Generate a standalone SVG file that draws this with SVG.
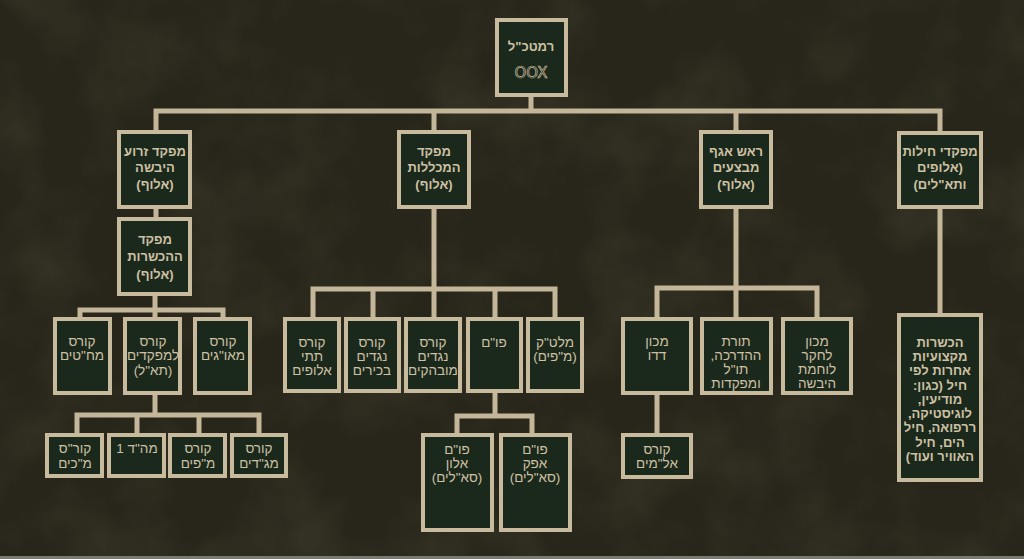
<svg xmlns="http://www.w3.org/2000/svg" width="1024" height="559" viewBox="0 0 1024 559">
<style>
.bx{fill:#1b291c;stroke:#c8ba9c;stroke-width:4}
.cn{stroke:#c4b698;stroke-width:5;fill:none;stroke-linecap:square}
.t{font-family:"Liberation Sans","DejaVu Sans",sans-serif;fill:#cdc0a3;text-anchor:middle;direction:rtl;font-size:13.5px}
.b{font-weight:bold;font-size:13px}
.sym{font-family:"DejaVu Sans","Liberation Sans",sans-serif;font-size:15px;fill:none;stroke:#c8ba9c;stroke-width:0.7;text-anchor:middle}
</style>
<defs>
<filter id="grain" x="0" y="0" width="100%" height="100%">
<feTurbulence type="fractalNoise" baseFrequency="0.012" numOctaves="4" seed="7"/>
<feColorMatrix type="matrix" values="0 0 0 0 0.2  0 0 0 0 0.2  0 0 0 0 0.13  0 0 0 1.1 -0.45"/>
</filter>
</defs>
<rect width="1024" height="559" fill="#28261a"/>
<rect width="1024" height="556" filter="url(#grain)" opacity="0.28"/>
<rect y="556" width="1024" height="3" fill="#7b7a72"/>

<g id="connectors" class="cn">
<path d="M531 97V111M156 111H940M156 111V130M434 111V130M736 111V130M940 111V130"/>
<path d="M156 209V217M155 296V310M80 310H223M80 310V317M155 310V317M223 310V317"/>
<path d="M155 395V415M77 415H259M77 415V433M137 415V433M199 415V433M259 415V433"/>
<path d="M434 209V289M313 289H555M313 289V317M373 289V317M434 289V317M495 289V317M555 289V317"/>
<path d="M495 393V416M457 416H532M457 416V433M532 416V433"/>
<path d="M736 209V288M657 288H817M657 288V317M736 288V317M817 288V317M657 395V433"/>
<path d="M940 209V313"/>
</g>

<g id="ramatkal"><rect class="bx" x="497" y="20" width="69" height="75"/>
<text class="t b" x="531" y="51">רמטכ"ל</text>
<text class="sym" x="531" y="78">OOX</text></g>

<g id="mazi"><rect class="bx" x="119" y="132" width="71" height="75"/>
<text class="t b"><tspan x="155" y="156">מפקד זרוע</tspan><tspan x="155" y="172">היבשה</tspan><tspan x="155" y="189">(אלוף)</tspan></text></g>

<g id="mamlalot"><rect class="bx" x="399" y="132" width="70" height="75"/>
<text class="t b"><tspan x="434" y="156">מפקד</tspan><tspan x="434" y="172">המכללות</tspan><tspan x="434" y="189">(אלוף)</tspan></text></g>

<g id="ragam"><rect class="bx" x="701" y="132" width="70" height="75"/>
<text class="t b"><tspan x="736" y="156">ראש אגף</tspan><tspan x="736" y="172">מבצעים</tspan><tspan x="736" y="189">(אלוף)</tspan></text></g>

<g id="chilot"><rect class="bx" x="899" y="133" width="82" height="74"/>
<text class="t b"><tspan x="940" y="156">מפקדי חילות</tspan><tspan x="940" y="172">(אלופים</tspan><tspan x="940" y="189">ותא"לים)</tspan></text></g>

<g id="hakasharot-cmd"><rect class="bx" x="119" y="219" width="71" height="75"/>
<text class="t b"><tspan x="155" y="244">מפקד</tspan><tspan x="155" y="261">ההכשרות</tspan><tspan x="155" y="279">(אלוף)</tspan></text></g>

<g id="machatim"><rect class="bx" x="55" y="319" width="55" height="74"/>
<text class="t"><tspan x="82" y="346">קורס</tspan><tspan x="82" y="360">מח"טים</tspan></text></g>
<g id="lamefakdim"><rect class="bx" x="125" y="319" width="55" height="74"/>
<text class="t"><tspan x="153" y="346">קורס</tspan><tspan x="153" y="360">למפקדים</tspan><tspan x="153" y="375">(תא"ל)</tspan></text></g>
<g id="maogim"><rect class="bx" x="195" y="319" width="55" height="74"/>
<text class="t"><tspan x="223" y="346">קורס</tspan><tspan x="223" y="360">מאו"גים</tspan></text></g>

<g id="makim"><rect class="bx" x="47" y="435" width="55" height="41"/>
<text class="t"><tspan x="75" y="453">קור"ס</tspan><tspan x="75" y="468">מ"כים</tspan></text></g>
<g id="mahad"><rect class="bx" x="109" y="435" width="55" height="41"/>
<text class="t"><tspan x="137" y="453">מה"ד 1</tspan></text></g>
<g id="mapim"><rect class="bx" x="170" y="435" width="55" height="41"/>
<text class="t"><tspan x="198" y="453">קורס</tspan><tspan x="198" y="468">מ"פים</tspan></text></g>
<g id="magadim"><rect class="bx" x="232" y="435" width="54" height="41"/>
<text class="t"><tspan x="259" y="453">קורס</tspan><tspan x="259" y="468">מג"דים</tspan></text></g>

<g id="tatei"><rect class="bx" x="285" y="319" width="54" height="72"/>
<text class="t"><tspan x="312" y="347">קורס</tspan><tspan x="312" y="361">תתי</tspan><tspan x="312" y="375">אלופים</tspan></text></g>
<g id="nagadim-bchirim"><rect class="bx" x="346" y="319" width="53" height="72"/>
<text class="t"><tspan x="372" y="347">קורס</tspan><tspan x="372" y="361">נגדים</tspan><tspan x="372" y="375">בכירים</tspan></text></g>
<g id="nagadim-muvhakim"><rect class="bx" x="406" y="319" width="54" height="72"/>
<text class="t"><tspan x="433" y="347">קורס</tspan><tspan x="433" y="361">נגדים</tspan><tspan x="433" y="375">מובהקים</tspan></text></g>
<g id="pum"><rect class="bx" x="468" y="319" width="53" height="72"/>
<text class="t"><tspan x="494" y="347">פו"ם</tspan></text></g>
<g id="maltak"><rect class="bx" x="528" y="319" width="54" height="72"/>
<text class="t"><tspan x="555" y="347">מלט"ק</tspan><tspan x="555" y="361">(מ"פים)</tspan></text></g>

<g id="pum-alon"><rect class="bx" x="423" y="435" width="69" height="95"/>
<text class="t"><tspan x="457" y="454">פו"ם</tspan><tspan x="457" y="468">אלון</tspan><tspan x="457" y="482">(סא"לים)</tspan></text></g>
<g id="pum-afek"><rect class="bx" x="501" y="435" width="69" height="95"/>
<text class="t"><tspan x="535" y="454">פו"ם</tspan><tspan x="535" y="468">אפק</tspan><tspan x="535" y="482">(סא"לים)</tspan></text></g>

<g id="dado"><rect class="bx" x="623" y="319" width="68" height="74"/>
<text class="t"><tspan x="657" y="346">מכון</tspan><tspan x="657" y="360">דדו</tspan></text></g>
<g id="torat"><rect class="bx" x="702" y="319" width="69" height="74"/>
<text class="t"><tspan x="736" y="346">תורת</tspan><tspan x="736" y="360">ההדרכה,</tspan><tspan x="736" y="374">תו"ל</tspan><tspan x="736" y="388">ומפקדות</tspan></text></g>
<g id="lachkar"><rect class="bx" x="783" y="319" width="68" height="74"/>
<text class="t"><tspan x="817" y="346">מכון</tspan><tspan x="817" y="360">לחקר</tspan><tspan x="817" y="374">לוחמת</tspan><tspan x="817" y="388">היבשה</tspan></text></g>
<g id="alamim"><rect class="bx" x="623" y="435" width="68" height="42"/>
<text class="t"><tspan x="657" y="454">קורס</tspan><tspan x="657" y="468">אל"מים</tspan></text></g>

<g id="hakasharot"><rect class="bx" x="899" y="315" width="82" height="165"/>
<text class="t b" font-size="12.5"><tspan x="940" y="347">הכשרות</tspan><tspan x="940" y="361">מקצועיות</tspan><tspan x="940" y="375">אחרות לפי</tspan><tspan x="940" y="389.5">חיל (כגון:</tspan><tspan x="940" y="404">מודיעין,</tspan><tspan x="940" y="418">לוגיסטיקה,</tspan><tspan x="940" y="432">ררפואה, חיל</tspan><tspan x="940" y="446.5">הים, חיל</tspan><tspan x="940" y="461">האוויר ועוד)</tspan></text></g>
</svg>
